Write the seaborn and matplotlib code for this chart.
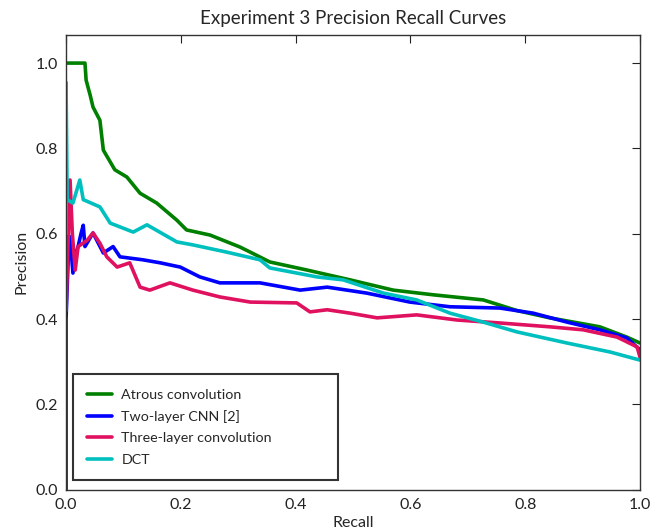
import matplotlib as mpl
mpl.use('Agg')
import matplotlib.pyplot as plt
import seaborn as sns
import pandas as pd

# precision / recall points
atrous_recall = [0.0, 0.033, 0.035, 0.042, 0.047, 0.059, 0.065, 0.085, 0.106, 0.129, 0.158,
                 0.193, 0.21, 0.251, 0.303, 0.321, 0.355, 0.42, 0.495, 0.57, 0.64, 0.727,
                 0.786, 0.843, 0.93, 0.977, 1.0]
atrous_prec = [1.0, 1.0, 0.96, 0.925, 0.897, 0.866, 0.796, 0.75, 0.733, 0.695, 0.672,
               0.632, 0.609, 0.597, 0.569, 0.557, 0.534, 0.515, 0.492, 0.468, 0.457, 0.445,
               0.42, 0.403, 0.382, 0.358, 0.344]

cnn_recall = [0.0, 0.0, 0.004, 0.007, 0.012, 0.016, 0.021, 0.026, 0.03, 0.033, 0.047, 0.065,
              0.082, 0.094, 0.134, 0.164, 0.199, 0.233, 0.268, 0.338, 0.408, 0.455, 0.524,
              0.599, 0.669, 0.756, 0.814, 0.873, 0.93, 0.977, 1.0]
cnn_prec = [0.0, 0.4, 0.55, 0.593, 0.508, 0.55, 0.57, 0.6, 0.62, 0.57, 0.602, 0.555,
            0.57, 0.546, 0.539, 0.532, 0.522, 0.499, 0.485, 0.485, 0.468, 0.475, 0.461,
            0.44, 0.429, 0.426, 0.414, 0.393, 0.375, 0.356, 0.328]

three_recall = [0.0, 0.004, 0.007, 0.011, 0.016, 0.021, 0.037, 0.047, 0.059, 0.071, 0.089,
                0.111, 0.129, 0.146, 0.181, 0.221, 0.268, 0.321, 0.402, 0.425, 0.455, 0.495,
                0.542, 0.611, 0.681, 0.756, 0.843, 0.901, 0.96, 0.995, 1.0]
three_prec = [0.42, 0.6, 0.726, 0.6, 0.515, 0.57, 0.585, 0.602, 0.578, 0.546, 0.522,
              0.532, 0.475, 0.468, 0.485, 0.468, 0.452, 0.44, 0.438, 0.417, 0.422, 0.414,
              0.403, 0.41, 0.398, 0.391, 0.382, 0.375, 0.358, 0.335, 0.311]

dct_recall = [0.0, 0.0, 0.002, 0.012, 0.024, 0.03, 0.059, 0.077, 0.117, 0.141, 0.193, 0.221,
              0.28, 0.338, 0.355, 0.437, 0.483, 0.553, 0.611, 0.669, 0.727, 0.786, 0.873,
              0.948, 1.0]
dct_prec = [0.6, 0.955, 0.68, 0.672, 0.726, 0.68, 0.663, 0.625, 0.604, 0.621, 0.581, 0.574,
            0.557, 0.539, 0.52, 0.499, 0.492, 0.461, 0.445, 0.414, 0.393, 0.37, 0.344,
            0.323, 0.304]

names = ['Atrous convolution', 'Two-layer CNN [2]', 'Three-layer convolution', 'DCT']
colors = ['#008000', '#0000ff', '#e0115f', '#00bfbf']

frames = []
for name, r, p in zip(names,
                      [atrous_recall, cnn_recall, three_recall, dct_recall],
                      [atrous_prec, cnn_prec, three_prec, dct_prec]):
    frames.append(pd.DataFrame({'Recall': r, 'Precision': p, 'model': name}))
df = pd.concat(frames, ignore_index=True)

sns.set_style('white')
plt.rcParams['font.family'] = ['Lato', 'DejaVu Sans']
plt.rcParams['xtick.direction'] = 'in'
plt.rcParams['ytick.direction'] = 'in'

fig = plt.figure(figsize=(6.67, 5.29), dpi=100)
ax = fig.add_axes([0.099, 0.074, 0.8605, 0.86])

sns.lineplot(data=df, x='Recall', y='Precision', hue='model', hue_order=names,
             palette=colors, sort=False, estimator=None, linewidth=2.6, ax=ax)

ax.set_xlim(0, 1.0)
ax.set_ylim(0, 1.066)
ax.set_xticks([0.0, 0.2, 0.4, 0.6, 0.8, 1.0])
ax.set_yticks([0.0, 0.2, 0.4, 0.6, 0.8, 1.0])
ax.tick_params(top=True, right=True, length=6, width=0.8, labelsize=11.5,
               colors='#222222', pad=6)
for s in ax.spines.values():
    s.set_color('#333333')
    s.set_linewidth(1.0)
ax.set_title('Experiment 3 Precision Recall Curves', fontsize=13.5, pad=8)
ax.set_xlabel('Recall', fontsize=11.5, labelpad=3)
ax.set_ylabel('Precision', fontsize=11.5, labelpad=5)

leg = ax.legend(loc='lower left', bbox_to_anchor=(0.012, 0.022, 0.462, 0.0),
                mode='expand', borderaxespad=0, fontsize=10.3, frameon=True,
                fancybox=False, handlelength=1.75, handletextpad=0.63,
                borderpad=1.0, labelspacing=0.65)
leg.get_frame().set_edgecolor('black')
leg.get_frame().set_linewidth(1.5)
for h in leg.get_lines():
    h.set_linewidth(2.6)

fig.savefig('out.png', dpi=100)
